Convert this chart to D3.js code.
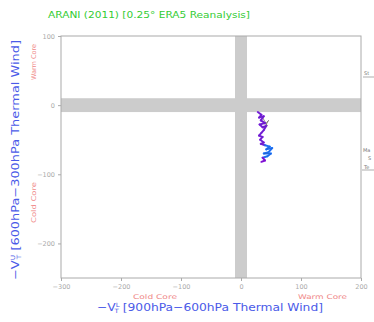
<!DOCTYPE html>
<html><head><meta charset="utf-8">
<script src="https://cdn.jsdelivr.net/npm/d3@7"></script>
<style>html,body{margin:0;padding:0;background:#fff;overflow:hidden}</style>
</head><body>
<script>
const titleText = "ARANI (2011) [0.25° ERA5 Reanalysis]";
const xTicks = [-300, -200, -100, 0, 100, 200];
const yTicks = [100, 0, -100, -200];
const trackX = [28, 34, 30, 38, 33, 40, 31, 36, 42, 38, 34, 30, 36, 32, 38, 33, 40, 48, 42, 52, 46, 38, 50, 44, 36, 40, 34];
const trackY = [-10, -14, -18, -16, -22, -26, -28, -32, -30, -36, -40, -44, -46, -50, -54, -56, -58, -60, -64, -62, -68, -70, -70, -74, -76, -80, -82];
const trackDarkX = [36, 44, 38, 46, 40];
const trackDarkY = [-18, -30, -34, -22, -28];

const W = 374, H = 322;
const svg = d3.select("body").append("svg").attr("width", W).attr("height", H);
const x = d3.scaleLinear().domain([-300, 200]).range([61, 361]);
const y = d3.scaleLinear().domain([100, -250]).range([36, 278]);

// gray bands
svg.append("rect").attr("x", x(-300)).attr("y", y(10)).attr("width", x(200) - x(-300)).attr("height", y(-10) - y(10)).attr("fill", "#cccccc");
svg.append("rect").attr("x", x(-10)).attr("y", y(100)).attr("width", x(10) - x(-10)).attr("height", y(-250) - y(100)).attr("fill", "#cccccc");

// frame
svg.append("rect").attr("x", x(-300)).attr("y", y(100)).attr("width", x(200) - x(-300)).attr("height", y(-250) - y(100))
  .attr("fill", "none").attr("stroke", "#aaaaaa").attr("stroke-width", 1);

const fontF = "DejaVu Sans, sans-serif";
// axes
const xa = svg.append("g").attr("transform", `translate(0,${y(-250)})`)
  .call(d3.axisBottom(x).tickValues(xTicks).tickSize(3).tickFormat(d => d < 0 ? "\u2212" + (-d) : d));
const ya = svg.append("g").attr("transform", `translate(${x(-300)},0)`)
  .call(d3.axisLeft(y).tickValues(yTicks).tickSize(3).tickFormat(d => d < 0 ? "\u2212" + (-d) : d));
[xa, ya].forEach(a => {
  a.select(".domain").remove();
  a.selectAll("line").attr("stroke", "#aaaaaa");
  a.selectAll("text").attr("fill", "#aaaaaa").attr("font-size", 6.5).attr("font-family", fontF);
});

// track
const pts = trackX.map((v, i) => [x(v), y(trackY[i])]);
const segCol = i => i < 16 ? "#7a1fe0" : (i < 24 ? "#1f78ff" : "#8a10e0");
svg.append("path").attr("d", d3.line()(trackDarkX.map((v, i) => [x(v), y(trackDarkY[i])])))
  .attr("fill", "none").attr("stroke", "#777766").attr("stroke-width", 0.8);
for (let i = 0; i < pts.length - 1; i++) {
  svg.append("line").attr("x1", pts[i][0]).attr("y1", pts[i][1]).attr("x2", pts[i + 1][0]).attr("y2", pts[i + 1][1])
    .attr("stroke", segCol(i)).attr("stroke-width", 2).attr("stroke-linecap", "round");
}
svg.append("path").attr("d", d3.line()(pts)).attr("fill", "none").attr("stroke", "#333366").attr("stroke-width", 0.4).attr("opacity", 0.5);

// title
svg.append("text").attr("x", 48).attr("y", 18).text(titleText)
  .attr("textLength", 202).attr("lengthAdjust", "spacingAndGlyphs")
  .attr("fill", "#33cc33").attr("font-size", 8).attr("font-family", fontF);

// axis titles
const blue = "#4a5ae8";
const xt = svg.append("text").attr("x", 97).attr("y", 311)
  .attr("textLength", 226).attr("lengthAdjust", "spacingAndGlyphs")
  .attr("fill", blue).attr("font-size", 10.5).attr("font-family", fontF);
xt.append("tspan").text("\u2212V");
xt.append("tspan").attr("font-size", 6).attr("dy", -4).text("L");
xt.append("tspan").attr("font-size", 6).attr("dy", 6).attr("dx", -3.5).text("T");
xt.append("tspan").attr("dy", -2).text(" [900hPa\u2212600hPa Thermal Wind]");

const yt = svg.append("text").attr("transform", "translate(19,280) rotate(-90)")
  .attr("textLength", 240).attr("lengthAdjust", "spacingAndGlyphs")
  .attr("fill", blue).attr("font-size", 10.5).attr("font-family", fontF);
yt.append("tspan").text("\u2212V");
yt.append("tspan").attr("font-size", 6).attr("dy", -4).text("U");
yt.append("tspan").attr("font-size", 6).attr("dy", 6).attr("dx", -3.5).text("T");
yt.append("tspan").attr("dy", -2).text(" [600hPa\u2212300hPa Thermal Wind]");

// core labels
const pink = "#f08a8a";
svg.append("text").attr("x", 133).attr("y", 299).text("Cold Core")
  .attr("textLength", 44).attr("lengthAdjust", "spacingAndGlyphs")
  .attr("fill", pink).attr("font-size", 6.5).attr("font-family", fontF);
svg.append("text").attr("x", 298).attr("y", 299).text("Warm Core")
  .attr("textLength", 49).attr("lengthAdjust", "spacingAndGlyphs")
  .attr("fill", pink).attr("font-size", 6.5).attr("font-family", fontF);
svg.append("text").attr("transform", "translate(36,80) rotate(-90)").text("Warm Core")
  .attr("textLength", 36).attr("lengthAdjust", "spacingAndGlyphs")
  .attr("fill", pink).attr("font-size", 6.5).attr("font-family", fontF);
svg.append("text").attr("transform", "translate(36,223) rotate(-90)").text("Cold Core")
  .attr("textLength", 41).attr("lengthAdjust", "spacingAndGlyphs")
  .attr("fill", pink).attr("font-size", 6.5).attr("font-family", fontF);

// cropped legend fragments
const lg = svg.append("g").attr("font-size", 5).attr("font-family", fontF).attr("fill", "#777");
lg.append("text").attr("x", 364).attr("y", 75).text("St");
lg.append("line").attr("x1", 363).attr("x2", 374).attr("y1", 77).attr("y2", 77).attr("stroke", "#777").attr("stroke-width", 0.6);
lg.append("text").attr("x", 363).attr("y", 152).text("Ma");
lg.append("text").attr("x", 368).attr("y", 160).text("S");
lg.append("text").attr("x", 364).attr("y", 169).text("Te");
lg.append("line").attr("x1", 362).attr("x2", 374).attr("y1", 170).attr("y2", 170).attr("stroke", "#777").attr("stroke-width", 0.6);
</script>
</body></html>
